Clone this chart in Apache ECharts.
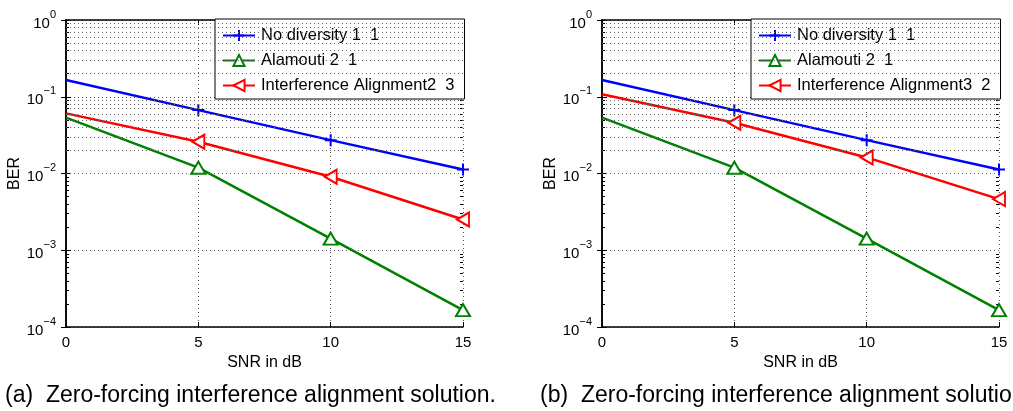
<!DOCTYPE html>
<html>
<head>
<meta charset="utf-8">
<script src="https://cdn.jsdelivr.net/npm/echarts@6/dist/echarts.min.js"></script>
<style>
html,body{margin:0;padding:0;background:#fff;}
#chart{width:1013px;height:411px;}
</style>
</head>
<body>
<div id="chart"></div>
<script>
// ---- data ----
var snr = [0, 5, 10, 15];
var noDiversity = [0.165, 0.067, 0.0272, 0.0113];
var alamouti = [0.0535, 0.0119, 0.00142, 0.000166];
var iaLeft = [0.0607, 0.0259, 0.00906, 0.00252];
var iaRight = [0.108, 0.0458, 0.0162, 0.00464];
var nameNoDiv = 'No diversity 1  1';
var nameAla = 'Alamouti 2  1';
var nameIaLeft = 'Interference Alignment2  3';
var nameIaRight = 'Interference Alignment3  2';
var xTicks = [0, 5, 10, 15];
var yTickExp = ['0', '\u22121', '\u22122', '\u22123', '\u22124'];
var captions = ['(a)  Zero-forcing interference alignment solution.', '(b)  Zero-forcing interference alignment solution.'];
// minor grid positions (log decade subdivisions 2..9)
var minorVals = [];
[1e-4, 1e-3, 1e-2, 1e-1].forEach(function (d) {
  for (var m = 2; m <= 9; m++) minorVals.push(+(m * d).toPrecision(3));
});

var font = 'Liberation Sans, Arial, Helvetica, sans-serif';
var grids = [
  {left: 66, top: 20, width: 397, height: 307},
  {left: 602, top: 20, width: 397, height: 307}
];

function pts(vals) {
  return vals.map(function (v, i) {
    var item = {value: [snr[i], v]};
    if (i === 0) item.symbol = 'none';
    return item;
  });
}

var xAxes = [], yAxes = [], series = [], legends = [];
grids.forEach(function (g, gi) {
  var xi = xAxes.length, yi = yAxes.length;
  xAxes.push({
    type: 'value', gridIndex: gi, min: 0, max: 15, interval: 5,
    name: 'SNR in dB', nameLocation: 'middle', nameGap: 26,
    nameTextStyle: {fontFamily: font, fontSize: 16, color: '#000'},
    axisLine: {show: true, lineStyle: {color: '#000', width: 1.5}},
    axisTick: {show: true, inside: true, length: 5, lineStyle: {color: '#000'}},
    axisLabel: {fontFamily: font, fontSize: 15, color: '#000', margin: 8,
      formatter: function (v) { return xTicks.indexOf(v) >= 0 ? String(v) : ''; }},
    splitLine: {show: true, lineStyle: {color: '#555', type: [1, 3], width: 1}}
  });
  xAxes.push({
    type: 'value', gridIndex: gi, min: 0, max: 15, interval: 5, position: 'top',
    axisLine: {show: true, lineStyle: {color: '#000', width: 1.5}},
    axisTick: {show: true, inside: true, length: 5, lineStyle: {color: '#000'}},
    axisLabel: {show: false}, splitLine: {show: false}
  });
  yAxes.push({
    type: 'log', logBase: 10, gridIndex: gi, min: 1e-4, max: 1,
    name: 'BER', nameLocation: 'middle', nameGap: 38, nameRotate: 90,
    nameTextStyle: {fontFamily: font, fontSize: 16, color: '#000'},
    axisLine: {show: true, lineStyle: {color: '#000', width: 1.5}},
    axisTick: {show: true, inside: true, length: 5, lineStyle: {color: '#000'}},
    axisLabel: {
      margin: 10, color: '#000',
      formatter: function (v) {
        var e = Math.round(-Math.log(v) / Math.LN10);
        return '{b|10}{s|' + yTickExp[e] + '}';
      },
      rich: {
        b: {fontFamily: font, fontSize: 15, color: '#000', lineHeight: 22, verticalAlign: 'bottom'},
        s: {fontFamily: font, fontSize: 11, color: '#000', lineHeight: 13, verticalAlign: 'top'}
      }
    },
    splitLine: {show: true, lineStyle: {color: '#555', type: [1, 3], width: 1}}
  });
  yAxes.push({
    type: 'log', logBase: 10, gridIndex: gi, min: 1e-4, max: 1, position: 'right',
    axisLine: {show: true, lineStyle: {color: '#000', width: 1.5}},
    axisTick: {show: true, inside: true, length: 5, lineStyle: {color: '#000'}},
    axisLabel: {show: false}, splitLine: {show: false}
  });
  yAxes.push({
    type: 'log', logBase: 10, gridIndex: gi, min: 1e-4, max: 1, position: 'left',
    axisLine: {show: false},
    axisTick: {show: true, inside: true, length: 3, customValues: minorVals, lineStyle: {color: '#000'}},
    axisLabel: {show: false}, splitLine: {show: false}
  });
  yAxes.push({
    type: 'log', logBase: 10, gridIndex: gi, min: 1e-4, max: 1, position: 'right',
    axisLine: {show: false},
    axisTick: {show: true, inside: true, length: 3, customValues: minorVals, lineStyle: {color: '#000'}},
    axisLabel: {show: false}, splitLine: {show: false}
  });

  // minor grid lines
  series.push({
    type: 'line', name: 'grid' + gi, xAxisIndex: xi, yAxisIndex: yi,
    data: pts(noDiversity), symbol: 'none', silent: true, z: 1,
    lineStyle: {opacity: 0}, tooltip: {show: false},
    markLine: {
      silent: true, symbol: 'none', label: {show: false}, animation: false,
      lineStyle: {color: '#666', type: [1, 3], width: 1},
      data: minorVals.map(function (v) { return {yAxis: v}; })
    }
  });

  var iaName = gi === 0 ? nameIaLeft : nameIaRight;
  var iaData = gi === 0 ? iaLeft : iaRight;
  series.push({
    type: 'line', name: nameNoDiv, xAxisIndex: xi, yAxisIndex: yi, data: pts(noDiversity),
    symbol: 'path://M0,5L10,5M5,0L5,10', symbolSize: 12, showAllSymbol: true,
    lineStyle: {color: '#0000ff', width: 2.5},
    itemStyle: {color: '#0000ff', borderColor: '#0000ff', borderWidth: 2}, z: 3
  });
  series.push({
    type: 'line', name: nameAla, xAxisIndex: xi, yAxisIndex: yi, data: pts(alamouti),
    symbol: 'emptyTriangle', symbolSize: [14, 12], showAllSymbol: true,
    lineStyle: {color: '#008000', width: 2.5},
    itemStyle: {color: '#008000', borderColor: '#008000', borderWidth: 2}, z: 3
  });
  series.push({
    type: 'line', name: iaName, xAxisIndex: xi, yAxisIndex: yi, data: pts(iaData),
    symbol: 'emptyTriangle', symbolRotate: 90, symbolSize: [14, 12], showAllSymbol: true,
    lineStyle: {color: '#ff0000', width: 2.5},
    itemStyle: {color: '#ff0000', borderColor: '#ff0000', borderWidth: 2}, z: 3
  });

  legends.push({
    left: g.left + 149, top: 19, orient: 'vertical',
    data: [nameNoDiv, nameAla, iaName],
    backgroundColor: '#fff', borderColor: '#000', borderWidth: 1,
    padding: [8, 10, 5, 7], itemGap: 8, itemWidth: 32, itemHeight: 14,
    textStyle: {fontFamily: font, fontSize: 16.5, color: '#000', padding: [0, 0, 0, 1]},
    selectedMode: false
  });
});

var chart = echarts.init(document.getElementById('chart'), null, {renderer: 'canvas'});
chart.setOption({
  animation: false,
  backgroundColor: '#fff',
  grid: grids.map(function (g) {
    return {left: g.left, top: g.top, width: g.width, height: g.height, show: false};
  }),
  xAxis: xAxes,
  yAxis: yAxes,
  legend: legends,
  series: series,
  graphic: [
    {type: 'text', left: 5, top: 384, style: {text: captions[0], font: '23px ' + font, fill: '#000'}},
    {type: 'text', left: 540, top: 384, style: {text: captions[1], font: '23px ' + font, fill: '#000'}}
  ]
});
</script>
</body>
</html>
